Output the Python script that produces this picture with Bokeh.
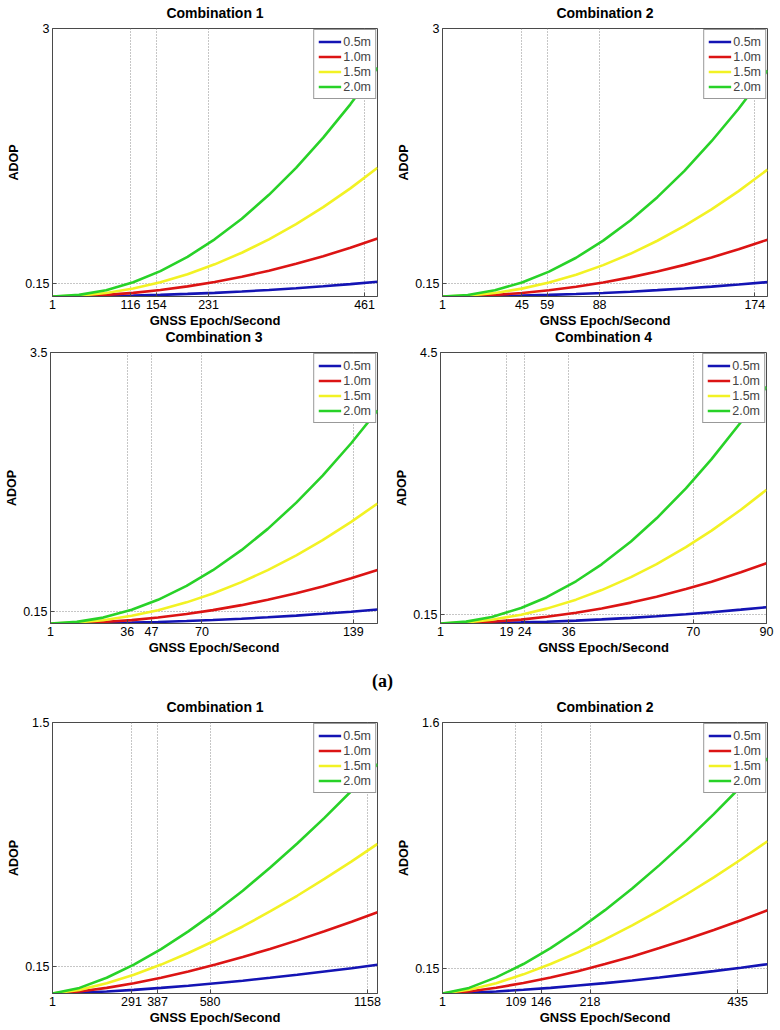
from bokeh.plotting import figure
from bokeh.layouts import column, row
from bokeh.models import FixedTicker, Range1d, Label
from bokeh.embed import file_html
from bokeh.resources import INLINE

# ---------------- data ----------------
series_labels = ["0.5m", "1.0m", "1.5m", "2.0m"]
series_colors = ["#1414B4", "#DC1414", "#F2F224", "#28D228"]

# (a) Combination 1
a1_title = "Combination 1"
a1_t = [1, 40, 80, 120, 160, 200, 240, 280, 320, 360, 400, 440, 480]
a1_05 = [0, 0.001, 0.005, 0.010, 0.018, 0.029, 0.041, 0.056, 0.073, 0.093, 0.115, 0.139, 0.165]
a1_10 = [0, 0.005, 0.018, 0.041, 0.072, 0.113, 0.163, 0.221, 0.289, 0.366, 0.451, 0.546, 0.650]
a1_15 = [0, 0.010, 0.040, 0.090, 0.160, 0.250, 0.360, 0.490, 0.640, 0.810, 1.000, 1.210, 1.440]
a1_20 = [0, 0.018, 0.071, 0.160, 0.284, 0.444, 0.640, 0.871, 1.138, 1.440, 1.778, 2.151, 2.560]
a1_xticks = [1, 116, 154, 231, 461]
a1_yticks = [0.15, 3]
a1_xmax, a1_ymax = 480, 3

# (a) Combination 2
a2_title = "Combination 2"
a2_t = [1, 15, 30, 45, 60, 75, 90, 105, 120, 135, 150, 165, 181]
a2_05 = [0, 0.001, 0.004, 0.010, 0.018, 0.028, 0.040, 0.054, 0.071, 0.090, 0.111, 0.134, 0.161]
a2_10 = [0, 0.004, 0.017, 0.039, 0.070, 0.109, 0.157, 0.214, 0.280, 0.354, 0.437, 0.529, 0.636]
a2_15 = [0, 0.010, 0.039, 0.088, 0.156, 0.244, 0.351, 0.478, 0.624, 0.790, 0.975, 1.180, 1.420]
a2_20 = [0, 0.017, 0.070, 0.156, 0.278, 0.434, 0.625, 0.851, 1.112, 1.407, 1.738, 2.102, 2.530]
a2_xticks = [1, 45, 59, 88, 174]
a2_yticks = [0.15, 3]
a2_xmax, a2_ymax = 181, 3

# (a) Combination 3
a3_title = "Combination 3"
a3_t = [1, 13, 25, 38, 50, 63, 75, 88, 100, 113, 125, 138, 150]
a3_05 = [0, 0.001, 0.005, 0.012, 0.020, 0.032, 0.045, 0.062, 0.080, 0.102, 0.125, 0.152, 0.180]
a3_10 = [0, 0.005, 0.019, 0.044, 0.077, 0.122, 0.173, 0.237, 0.307, 0.392, 0.479, 0.584, 0.690]
a3_15 = [0, 0.012, 0.043, 0.100, 0.172, 0.273, 0.388, 0.534, 0.689, 0.880, 1.076, 1.312, 1.550]
a3_20 = [0, 0.021, 0.076, 0.177, 0.306, 0.485, 0.688, 0.947, 1.222, 1.561, 1.910, 2.328, 2.750]
a3_xticks = [1, 36, 47, 70, 139]
a3_yticks = [0.15, 3.5]
a3_xmax, a3_ymax = 150, 3.5

# (a) Combination 4
a4_title = "Combination 4"
a4_t = [1, 8, 15, 23, 30, 38, 45, 53, 60, 68, 75, 83, 90]
a4_05 = [0, 0.002, 0.008, 0.018, 0.030, 0.048, 0.068, 0.094, 0.120, 0.154, 0.188, 0.230, 0.270]
a4_10 = [0, 0.008, 0.028, 0.065, 0.111, 0.178, 0.250, 0.347, 0.444, 0.571, 0.694, 0.851, 1.000]
a4_15 = [0, 0.018, 0.062, 0.145, 0.247, 0.396, 0.555, 0.770, 0.987, 1.267, 1.542, 1.888, 2.220]
a4_20 = [0, 0.031, 0.109, 0.257, 0.437, 0.701, 0.983, 1.363, 1.747, 2.244, 2.729, 3.342, 3.930]
a4_xticks = [1, 19, 24, 36, 70, 90]
a4_yticks = [0.15, 4.5]
a4_xmax, a4_ymax = 90, 4.5

# (b) Combination 1
b1_title = "Combination 1"
b1_t = [1, 100, 200, 300, 400, 500, 600, 700, 800, 900, 1000, 1100, 1195]
b1_05 = [0, 0.004, 0.011, 0.020, 0.031, 0.043, 0.057, 0.071, 0.087, 0.104, 0.122, 0.140, 0.159]
b1_10 = [0, 0.011, 0.031, 0.057, 0.087, 0.122, 0.160, 0.202, 0.246, 0.294, 0.344, 0.397, 0.450]
b1_15 = [0, 0.020, 0.057, 0.104, 0.160, 0.224, 0.295, 0.371, 0.454, 0.541, 0.634, 0.731, 0.828]
b1_20 = [0, 0.031, 0.087, 0.160, 0.246, 0.344, 0.452, 0.569, 0.696, 0.830, 0.972, 1.122, 1.270]
b1_xticks = [1, 291, 387, 580, 1158]
b1_yticks = [0.15, 1.5]
b1_xmax, b1_ymax = 1195, 1.5

# (b) Combination 2
b2_title = "Combination 2"
b2_t = [1, 40, 80, 120, 160, 200, 240, 280, 320, 360, 400, 440, 479]
b2_05 = [0, 0.004, 0.012, 0.022, 0.033, 0.047, 0.061, 0.077, 0.094, 0.113, 0.132, 0.152, 0.173]
b2_10 = [0, 0.012, 0.034, 0.062, 0.095, 0.132, 0.174, 0.219, 0.268, 0.320, 0.375, 0.432, 0.491]
b2_15 = [0, 0.022, 0.061, 0.113, 0.174, 0.243, 0.319, 0.402, 0.491, 0.586, 0.686, 0.791, 0.899]
b2_20 = [0, 0.033, 0.095, 0.174, 0.268, 0.375, 0.492, 0.620, 0.758, 0.904, 1.059, 1.222, 1.388]
b2_xticks = [1, 109, 146, 218, 435]
b2_yticks = [0.15, 1.6]
b2_xmax, b2_ymax = 479, 1.6

x_label = "GNSS Epoch/Second"
y_label = "ADOP"
part_label = "(a)"

SANS = "Liberation Sans"
AXC = "#4a4a4a"
PAGE_W = 778


def panel(t, ys, xticks, yticks, xmax, ymax, w, h, bl, br, bt, bb):
    p = figure(width=w, height=h, x_range=Range1d(1, xmax), y_range=Range1d(0, ymax),
               output_backend="svg", toolbar_location=None,
               min_border_left=bl, min_border_right=br, min_border_top=bt, min_border_bottom=bb)
    p.background_fill_color = "white"
    p.border_fill_color = "white"
    p.outline_line_color = AXC
    p.outline_line_width = 1

    p.xaxis.ticker = FixedTicker(ticks=xticks)
    p.yaxis.ticker = FixedTicker(ticks=yticks)
    p.xgrid.ticker = FixedTicker(ticks=xticks)
    p.ygrid.ticker = FixedTicker(ticks=yticks)
    for g in (p.xgrid, p.ygrid):
        g.grid_line_color = "#8c8c8c"
        g.grid_line_dash = "1 2"
        g.grid_line_width = 1
        g.grid_line_alpha = 1.0

    for ax in (p.xaxis, p.yaxis):
        ax.axis_line_color = AXC
        ax.major_tick_line_color = AXC
        ax.major_tick_in = 4
        ax.major_tick_out = 0
        ax.minor_tick_line_color = None
        ax.major_label_text_font = SANS
        ax.major_label_text_font_size = "12.5px"
        ax.major_label_text_color = "black"
        ax.axis_label_text_font = SANS
        ax.axis_label_text_font_style = "bold"
        ax.axis_label_text_color = "black"
    p.xaxis.axis_label = x_label
    p.xaxis.axis_label_text_font_size = "13px"
    p.xaxis.major_label_standoff = 3
    p.xaxis.axis_label_standoff = 1
    p.yaxis.axis_label = y_label
    p.yaxis.axis_label_text_font_size = "12.5px"
    p.yaxis.major_label_standoff = 3
    p.yaxis.axis_label_standoff = 1

    for yv, lab, col in zip(ys, series_labels, series_colors):
        p.line(t, yv, line_color=col, line_width=2.6, legend_label=lab)

    lg = p.legend[0]
    lg.location = "top_right"
    lg.margin = 1
    lg.padding = 4
    lg.spacing = 0
    lg.label_height = 15
    lg.glyph_height = 15
    lg.glyph_width = 23
    lg.label_standoff = 2
    lg.label_text_font = SANS
    lg.label_text_font_size = "12.5px"
    lg.border_line_color = "#333333"
    lg.border_line_width = 1
    lg.background_fill_alpha = 1.0
    return p


def strip(h, texts):
    """A thin text-only band (titles / part label) between rows; x and y in pixels."""
    s = figure(width=PAGE_W, height=h, x_range=Range1d(0, PAGE_W), y_range=Range1d(0, h),
               output_backend="svg", toolbar_location=None, min_border=0,
               x_axis_location=None, y_axis_location=None)
    s.grid.visible = False
    s.outline_line_color = None
    s.background_fill_color = "white"
    s.border_fill_color = "white"
    for (x, y, txt, font, size) in texts:
        s.add_layout(Label(x=x, y=y, text=txt, text_font=font, text_font_style="bold",
                           text_font_size=size, text_align="center", text_baseline="middle",
                           text_color="black"))
    return s


TS = "14px"
s1 = strip(22, [(214.5, 9.5, a1_title, SANS, TS), (604.5, 9.5, a2_title, SANS, TS)])
p1 = panel(a1_t, [a1_05, a1_10, a1_15, a1_20], a1_xticks, a1_yticks, a1_xmax, a1_ymax,
           390, 308, 52, 13, 6, 31)
p2 = panel(a2_t, [a2_05, a2_10, a2_15, a2_20], a2_xticks, a2_yticks, a2_xmax, a2_ymax,
           388, 308, 52, 11, 6, 31)

s2 = strip(16, [(213.5, 9.5, a3_title, SANS, TS), (603.0, 9.5, a4_title, SANS, TS)])
p3 = panel(a3_t, [a3_05, a3_10, a3_15, a3_20], a3_xticks, a3_yticks, a3_xmax, a3_ymax,
           390, 319, 50, 13, 6, 42)
p4 = panel(a4_t, [a4_05, a4_10, a4_15, a4_20], a4_xticks, a4_yticks, a4_xmax, a4_ymax,
           388, 319, 50, 12, 6, 42)

s3 = strip(51, [(382, 36, part_label, "Liberation Serif", "18px"),
                (214.5, 9.5, b1_title, SANS, TS), (604.5, 9.5, b2_title, SANS, TS)])
p5 = panel(b1_t, [b1_05, b1_10, b1_15, b1_20], b1_xticks, b1_yticks, b1_xmax, b1_ymax,
           390, 312, 52, 13, 6, 35)
p6 = panel(b2_t, [b2_05, b2_10, b2_15, b2_20], b2_xticks, b2_yticks, b2_xmax, b2_ymax,
           388, 312, 52, 11, 6, 35)

layout = column(s1, row(p1, p2), s2, row(p3, p4), s3, row(p5, p6))

open("out.html", "w").write(file_html(layout, INLINE))
